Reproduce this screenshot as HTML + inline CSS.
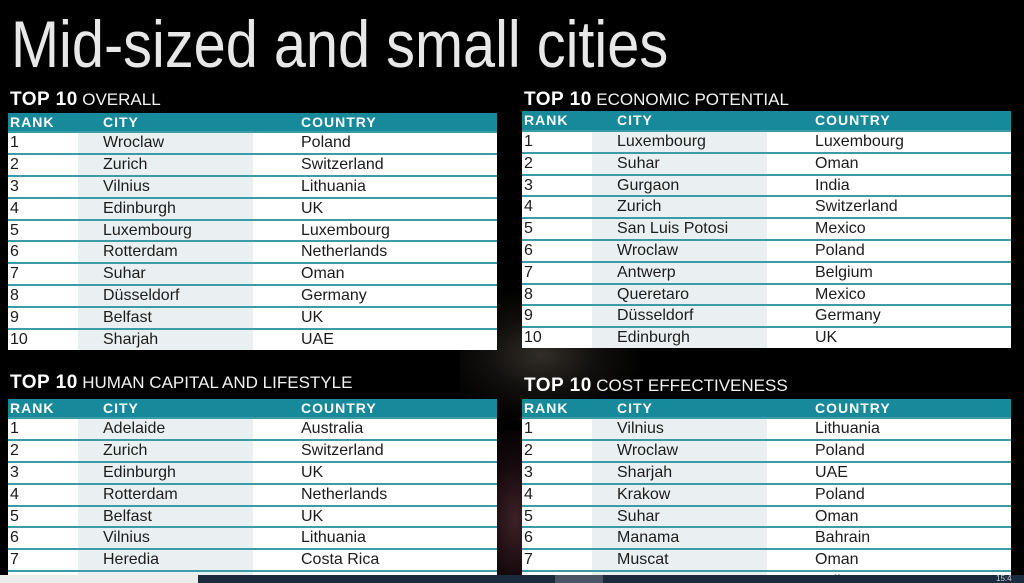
<!DOCTYPE html>
<html><head><meta charset="utf-8">
<style>
html,body{margin:0;padding:0;}
body{width:1024px;height:583px;overflow:hidden;background:#000;position:relative;font-family:"Liberation Sans",sans-serif;}
.bg1{position:absolute;left:460px;top:290px;width:180px;height:130px;background:radial-gradient(ellipse at 45% 50%,rgba(110,100,88,0.45) 0%,rgba(60,54,48,0.28) 40%,rgba(0,0,0,0) 75%);}
.bg2{position:absolute;left:470px;top:430px;width:90px;height:150px;background:radial-gradient(ellipse at 50% 60%,rgba(110,60,75,0.55) 0%,rgba(60,25,35,0.35) 45%,rgba(0,0,0,0) 80%);}
.title{position:absolute;left:11px;top:11px;font-size:66px;line-height:66px;color:#e8e8e8;white-space:nowrap;transform:scaleX(0.874);transform-origin:0 0;font-weight:normal;}
.sub{position:absolute;white-space:nowrap;color:#fff;line-height:19px;}
.sub b{font-size:19px;font-weight:bold;letter-spacing:0.5px;}
.sub span{font-size:17px;color:#f2f2f2;}
.tbl{position:absolute;width:489px;background:#fff;overflow:hidden;}
.band{position:absolute;left:70px;width:175px;top:0;bottom:0;background:#eaf0f1;}
.hd{position:relative;background:#16899a;color:#fff;font-weight:bold;font-size:14px;letter-spacing:1px;}
.row{position:relative;box-sizing:border-box;border-top:2px solid #3b9ca7;color:#1c1c1c;font-size:16px;}
.c1,.c2,.c3{position:absolute;white-space:nowrap;}
.c1{left:2px;}.c2{left:95px;}.c3{left:293px;}
.strip{position:absolute;top:575px;height:8px;}
</style></head><body>
<div class="bg1"></div>
<div class="bg2"></div>
<div class="title">Mid-sized and small cities</div>

<div class="sub" style="left:10px;top:90px;"><b>TOP 10</b> <span>OVERALL</span></div>
<div class="sub" style="left:524px;top:90px;"><b>TOP 10</b> <span>ECONOMIC POTENTIAL</span></div>
<div class="sub" style="left:10px;top:373px;"><b>TOP 10</b> <span>HUMAN CAPITAL AND LIFESTYLE</span></div>
<div class="sub" style="left:524px;top:376px;"><b>TOP 10</b> <span>COST EFFECTIVENESS</span></div>

<!-- Table 1 -->
<div class="tbl" style="left:8px;top:113px;height:237px;">
<div class="band"></div>
<div class="hd" style="height:18px;line-height:18px;"><span class="c1">RANK</span><span class="c2">CITY</span><span class="c3">COUNTRY</span></div>
<div class="row" style="height:21.9px;line-height:19px;"><span class="c1">1</span><span class="c2">Wroclaw</span><span class="c3">Poland</span></div>
<div class="row" style="height:21.9px;line-height:19px;"><span class="c1">2</span><span class="c2">Zurich</span><span class="c3">Switzerland</span></div>
<div class="row" style="height:21.9px;line-height:19px;"><span class="c1">3</span><span class="c2">Vilnius</span><span class="c3">Lithuania</span></div>
<div class="row" style="height:21.9px;line-height:19px;"><span class="c1">4</span><span class="c2">Edinburgh</span><span class="c3">UK</span></div>
<div class="row" style="height:21.9px;line-height:19px;"><span class="c1">5</span><span class="c2">Luxembourg</span><span class="c3">Luxembourg</span></div>
<div class="row" style="height:21.9px;line-height:19px;"><span class="c1">6</span><span class="c2">Rotterdam</span><span class="c3">Netherlands</span></div>
<div class="row" style="height:21.9px;line-height:19px;"><span class="c1">7</span><span class="c2">Suhar</span><span class="c3">Oman</span></div>
<div class="row" style="height:21.9px;line-height:19px;"><span class="c1">8</span><span class="c2">Düsseldorf</span><span class="c3">Germany</span></div>
<div class="row" style="height:21.9px;line-height:19px;"><span class="c1">9</span><span class="c2">Belfast</span><span class="c3">UK</span></div>
<div class="row" style="height:21.9px;line-height:19px;"><span class="c1">10</span><span class="c2">Sharjah</span><span class="c3">UAE</span></div>
</div>

<!-- Table 2 -->
<div class="tbl" style="left:522px;top:111px;height:237px;">
<div class="band"></div>
<div class="hd" style="height:19px;line-height:19px;"><span class="c1">RANK</span><span class="c2">CITY</span><span class="c3">COUNTRY</span></div>
<div class="row" style="height:21.8px;line-height:19px;"><span class="c1">1</span><span class="c2">Luxembourg</span><span class="c3">Luxembourg</span></div>
<div class="row" style="height:21.8px;line-height:19px;"><span class="c1">2</span><span class="c2">Suhar</span><span class="c3">Oman</span></div>
<div class="row" style="height:21.8px;line-height:19px;"><span class="c1">3</span><span class="c2">Gurgaon</span><span class="c3">India</span></div>
<div class="row" style="height:21.8px;line-height:19px;"><span class="c1">4</span><span class="c2">Zurich</span><span class="c3">Switzerland</span></div>
<div class="row" style="height:21.8px;line-height:19px;"><span class="c1">5</span><span class="c2">San Luis Potosi</span><span class="c3">Mexico</span></div>
<div class="row" style="height:21.8px;line-height:19px;"><span class="c1">6</span><span class="c2">Wroclaw</span><span class="c3">Poland</span></div>
<div class="row" style="height:21.8px;line-height:19px;"><span class="c1">7</span><span class="c2">Antwerp</span><span class="c3">Belgium</span></div>
<div class="row" style="height:21.8px;line-height:19px;"><span class="c1">8</span><span class="c2">Queretaro</span><span class="c3">Mexico</span></div>
<div class="row" style="height:21.8px;line-height:19px;"><span class="c1">9</span><span class="c2">Düsseldorf</span><span class="c3">Germany</span></div>
<div class="row" style="height:21.8px;line-height:19px;"><span class="c1">10</span><span class="c2">Edinburgh</span><span class="c3">UK</span></div>
</div>

<!-- Table 3 -->
<div class="tbl" style="left:8px;top:399px;height:184px;">
<div class="band"></div>
<div class="hd" style="height:18px;line-height:18px;"><span class="c1">RANK</span><span class="c2">CITY</span><span class="c3">COUNTRY</span></div>
<div class="row" style="height:21.9px;line-height:19px;"><span class="c1">1</span><span class="c2">Adelaide</span><span class="c3">Australia</span></div>
<div class="row" style="height:21.9px;line-height:19px;"><span class="c1">2</span><span class="c2">Zurich</span><span class="c3">Switzerland</span></div>
<div class="row" style="height:21.9px;line-height:19px;"><span class="c1">3</span><span class="c2">Edinburgh</span><span class="c3">UK</span></div>
<div class="row" style="height:21.9px;line-height:19px;"><span class="c1">4</span><span class="c2">Rotterdam</span><span class="c3">Netherlands</span></div>
<div class="row" style="height:21.9px;line-height:19px;"><span class="c1">5</span><span class="c2">Belfast</span><span class="c3">UK</span></div>
<div class="row" style="height:21.9px;line-height:19px;"><span class="c1">6</span><span class="c2">Vilnius</span><span class="c3">Lithuania</span></div>
<div class="row" style="height:21.9px;line-height:19px;"><span class="c1">7</span><span class="c2">Heredia</span><span class="c3">Costa Rica</span></div>
<div class="row" style="height:21.9px;line-height:19px;"><span class="c1">8</span><span class="c2">Stuttgart</span><span class="c3">Germany</span></div>
</div>

<!-- Table 4 -->
<div class="tbl" style="left:522px;top:399px;height:184px;">
<div class="band"></div>
<div class="hd" style="height:18px;line-height:18px;"><span class="c1">RANK</span><span class="c2">CITY</span><span class="c3">COUNTRY</span></div>
<div class="row" style="height:21.9px;line-height:19px;"><span class="c1">1</span><span class="c2">Vilnius</span><span class="c3">Lithuania</span></div>
<div class="row" style="height:21.9px;line-height:19px;"><span class="c1">2</span><span class="c2">Wroclaw</span><span class="c3">Poland</span></div>
<div class="row" style="height:21.9px;line-height:19px;"><span class="c1">3</span><span class="c2">Sharjah</span><span class="c3">UAE</span></div>
<div class="row" style="height:21.9px;line-height:19px;"><span class="c1">4</span><span class="c2">Krakow</span><span class="c3">Poland</span></div>
<div class="row" style="height:21.9px;line-height:19px;"><span class="c1">5</span><span class="c2">Suhar</span><span class="c3">Oman</span></div>
<div class="row" style="height:21.9px;line-height:19px;"><span class="c1">6</span><span class="c2">Manama</span><span class="c3">Bahrain</span></div>
<div class="row" style="height:21.9px;line-height:19px;"><span class="c1">7</span><span class="c2">Muscat</span><span class="c3">Oman</span></div>
<div class="row" style="height:21.9px;line-height:19px;"><span class="c1">8</span><span class="c2">Gurgaon</span><span class="c3">India</span></div>
</div>

<!-- bottom strip -->
<div class="strip" style="left:0;width:198px;background:#ececec;"></div>
<div class="strip" style="left:198px;width:826px;background:#1c2a3e;"></div>
<div class="strip" style="left:555px;width:48px;background:#4a5568;"></div>
<div class="strip" style="left:996px;width:28px;color:#cfd6e0;font-size:8px;line-height:8px;">15:4</div>
</body></html>
